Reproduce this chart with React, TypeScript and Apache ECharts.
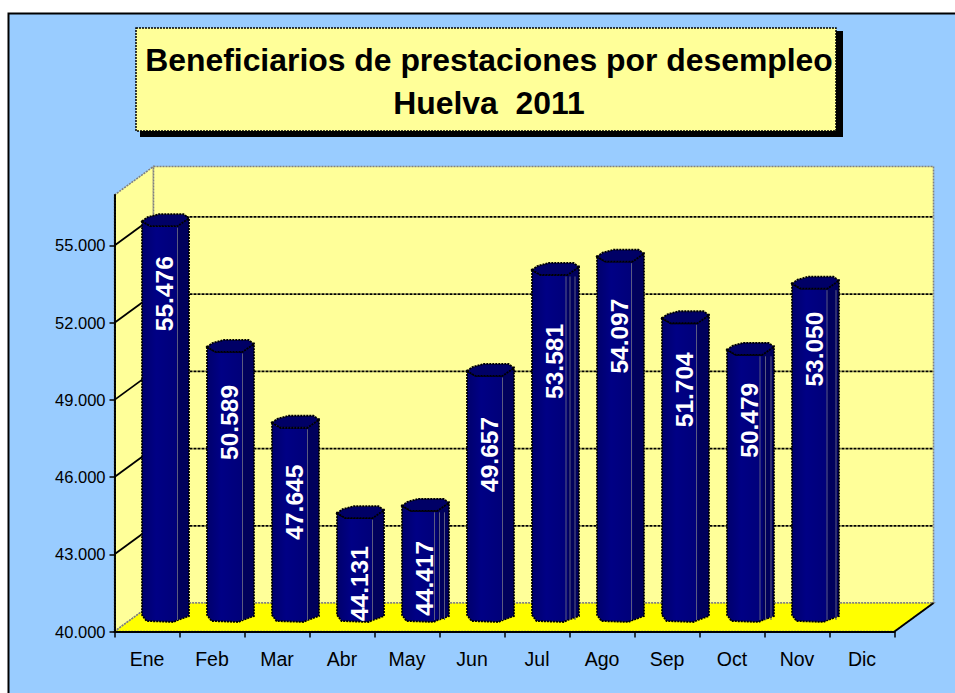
import React, { useEffect, useRef } from "react";
import * as echarts from "echarts";

const months = ["Ene", "Feb", "Mar", "Abr", "May", "Jun", "Jul", "Ago", "Sep", "Oct", "Nov", "Dic"];
const beneficiaries: (number | null)[] = [55476, 50589, 47645, 44131, 44417, 49657, 53581, 54097, 51704, 50479, 53050, null];
const axisTicks = [40000, 43000, 46000, 49000, 52000, 55000];
const titleLines = ["Beneficiarios de prestaciones por desempleo", "Huelva  2011"];

// Facet lines on the right side of each cylinder (offsets from its centre), as pictured
const facetLines: number[][] = [[12], [12], [12], [12], [9, 14, 19], [12], [10.5, 14.5, 19.5], [11], [11], [9.5, 15, 20.5], [11.5, 20.5], []];
// Distance in pixels from each cylinder's top to the start of its label, as pictured
const labelGaps = [23, 26, 30, 21, 23, 34, 42, 30, 22, 21, 16, 0];

const DEPTH_X = 39;
const DEPTH_Y = 28.5;
const BAR_SHIFT_X = 18.5;
const BAR_SHIFT_Y = 14.5;
const BAR_TOP_SHIFT_Y = 13.5;
const AXIS_MAX = 56960;

const fmt = (v: number) => {
  const s = String(Math.round(v));
  return s.slice(0, s.length - 3) + "." + s.slice(-3);
};

const dotted = [2, 1];
const gridDash = [3, 1];
const wallStroke = { stroke: "#808080", lineWidth: 1.6, lineDash: [2, 1] };

function renderWalls(params: any, api: any) {
  const c = params.coordSys;
  const L = c.x, R = c.x + c.width, T = c.y, B = c.y + c.height;
  const pts = (p: number[][]) => ({ points: p });
  return {
    type: "group",
    children: [
      { type: "polygon", shape: pts([[L, T], [L + DEPTH_X, T - DEPTH_Y], [L + DEPTH_X, B - DEPTH_Y], [L, B]]), style: { fill: "#FFFF99", ...wallStroke } },
      { type: "polygon", shape: pts([[L + DEPTH_X, T - DEPTH_Y], [R + DEPTH_X, T - DEPTH_Y], [R + DEPTH_X, B - DEPTH_Y], [L + DEPTH_X, B - DEPTH_Y]]), style: { fill: "#FFFF99", ...wallStroke } },
      { type: "polygon", shape: pts([[L, B], [L + DEPTH_X, B - DEPTH_Y], [R + DEPTH_X, B - DEPTH_Y], [R, B]]), style: { fill: "#FFFF00", ...wallStroke } },
      { type: "line", shape: { x1: R, y1: B, x2: R + DEPTH_X, y2: B - DEPTH_Y }, style: { stroke: "#000", lineWidth: 1.8 } },
    ],
  };
}

function renderGridline(params: any, api: any) {
  const c = params.coordSys;
  const y = api.coord([0, api.value(1)])[1];
  const L = c.x, R = c.x + c.width;
  if (api.value(1) === axisTicks[0]) return { type: "group", children: [] };
  return {
    type: "group",
    children: [
      { type: "line", shape: { x1: L, y1: y, x2: L + DEPTH_X, y2: y - DEPTH_Y }, style: { stroke: "#000", lineWidth: 1.8 } },
      { type: "line", shape: { x1: L + DEPTH_X, y1: y - DEPTH_Y, x2: R + DEPTH_X, y2: y - DEPTH_Y }, style: { stroke: "#000", lineWidth: 1.8, lineDash: gridDash } },
    ],
  };
}

function renderCylinder(params: any, api: any) {
  const idx = api.value(0);
  const value = api.value(1);
  const top = api.coord([idx, value]);
  const base = api.coord([idx, axisTicks[0]]);
  const cx = top[0] + BAR_SHIFT_X;
  const ty = top[1] - BAR_TOP_SHIFT_Y;
  const by = base[1] - BAR_SHIFT_Y;
  const outline = { stroke: "#000", lineWidth: 1.8, lineDash: dotted };
  const frontFill = new echarts.graphic.LinearGradient(0, 0, 1, 0, [
    { offset: 0, color: "#00006C" },
    { offset: 0.3, color: "#000085" },
    { offset: 0.7, color: "#00007A" },
    { offset: 1, color: "#000060" },
  ]);
  const children: any[] = [
    {
      type: "polygon",
      shape: { points: [[cx - 23.5, ty + 1.5], [cx - 23.5, by - 2], [cx - 19, by + 4], [cx + 8, by + 5], [cx + 12.5, by + 3], [cx + 23.5, by - 1], [cx + 23.5, ty - 1.5], [cx + 12, ty + 6.5], [cx - 15, ty + 6.5]] },
      style: { fill: frontFill, ...outline },
    },
    {
      type: "polygon",
      shape: { points: [[cx + 12, ty + 6.5], [cx + 22.5, ty - 1.5], [cx + 22.5, by - 1.5], [cx + 12.5, by + 2.5]] },
      style: { fill: "#00005C" },
    },
    {
      type: "polygon",
      shape: { points: [[cx - 23.5, ty + 1.5], [cx - 18, ty - 2.5], [cx - 7, ty - 5.5], [cx + 18, ty - 5.5], [cx + 23.5, ty - 1.5], [cx + 12, ty + 6.5], [cx - 15, ty + 6.5]] },
      style: { fill: "#000066", ...outline },
    },
  ];
  for (const off of facetLines[idx]) {
    children.push({
      type: "line",
      shape: { x1: cx + off, y1: ty + 8, x2: cx + off, y2: by + 3 },
      style: { stroke: "#5A5A80", lineWidth: 1 },
    });
  }
  children.push({
    type: "text",
    x: cx - 1.5,
    y: top[1] + labelGaps[idx],
    rotation: Math.PI / 2,
    style: {
      text: fmt(value),
      fill: "#fff",
      font: 'bold 24.5px "Liberation Sans", Arial, sans-serif',
      textAlign: "right",
      textVerticalAlign: "middle",
    },
  });
  return { type: "group", children };
}

export default function App() {
  const ref = useRef<HTMLDivElement>(null);
  useEffect(() => {
    const chart = echarts.init(ref.current!, undefined, { renderer: "svg" });
    chart.setOption({
      animation: false,
      backgroundColor: "#fff",
      title: {
        text: titleLines.join("\n"),
        left: 484,
        top: 33,
        textAlign: "center",
        textStyle: { fontFamily: '"Liberation Sans", Arial, sans-serif', fontWeight: "bold", fontSize: 31.9, lineHeight: 43, color: "#000" },
      },
      graphic: [
        { type: "rect", z: 0, shape: { x: 8.5, y: 13.5, width: 960, height: 700 }, style: { fill: "#99CCFF", stroke: "#000", lineWidth: 2 } },
        { type: "rect", z: 1, shape: { x: 140, y: 31, width: 703, height: 106 }, style: { fill: "#000" } },
        { type: "rect", z: 2, shape: { x: 136, y: 28, width: 700, height: 103 }, style: { fill: "#FFFF99", stroke: "#000", lineWidth: 1.5, lineDash: dotted } },
      ],
      grid: { left: 114.5, right: 60.5, top: 195, bottom: 61.5, containLabel: false },
      xAxis: {
        type: "category",
        data: months,
        boundaryGap: true,
        z: 3,
        axisLine: { lineStyle: { color: "#000", width: 2 } },
        axisTick: { show: true, length: 6, lineStyle: { color: "#000", width: 1.5 } },
        axisLabel: { color: "#000", fontFamily: '"Liberation Sans", Arial, sans-serif', fontSize: 19.5, margin: 17 },
        splitLine: { show: false },
      },
      yAxis: {
        type: "value",
        min: axisTicks[0],
        max: AXIS_MAX,
        interval: 3000,
        z: 3,
        axisLine: { show: true, lineStyle: { color: "#000", width: 2, type: [2, 1] } },
        axisTick: { show: true, length: 5, customValues: axisTicks, lineStyle: { color: "#000", width: 1.5 } },
        axisLabel: { color: "#000", fontFamily: '"Liberation Sans", Arial, sans-serif', fontSize: 16.5, margin: 9, customValues: axisTicks, formatter: (v: number) => fmt(v) },
        splitLine: { show: false },
      },
      series: [
        { type: "custom", name: "walls", z: 1, silent: true, renderItem: renderWalls, data: [[0, axisTicks[0]]] },
        { type: "custom", name: "grid", z: 1, silent: true, renderItem: renderGridline, data: axisTicks.map((t) => [0, t]) },
        {
          type: "custom",
          name: "Beneficiarios",
          z: 4,
          renderItem: renderCylinder,
          data: beneficiaries.map((v, i) => (v === null ? null : [i, v])).filter(Boolean),
        },
      ],
    });
    return () => chart.dispose();
  }, []);
  return <div ref={ref} style={{ position: "absolute", left: 0, top: 0, width: 955, height: 693 }} />;
}
